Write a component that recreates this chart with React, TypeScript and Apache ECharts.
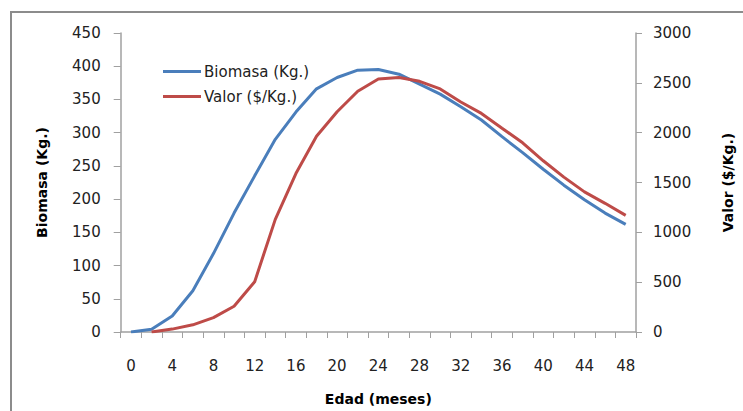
import React, { useEffect, useRef } from "react";
import * as echarts from "echarts";

// Age in months (category axis, one category every 2 months)
const months: string[] = [
  "0", "2", "4", "6", "8", "10", "12", "14", "16", "18", "20", "22", "24",
  "26", "28", "30", "32", "34", "36", "38", "40", "42", "44", "46", "48",
];

// Biomass (kg), left axis
const biomasa: number[] = [
  0, 4, 24, 62, 118, 179, 235, 290, 331, 366, 383, 394, 395,
  388, 373, 358, 339, 319, 294, 270, 245, 221, 199, 179, 162,
];

// Value ($/kg), right axis; no value at month 0
const valor: (number | null)[] = [
  null, 0, 29, 72, 144, 259, 505, 1130, 1590, 1964, 2210, 2415, 2538,
  2554, 2515, 2439, 2308, 2193, 2045, 1898, 1718, 1554, 1406, 1291, 1170,
];

const BLUE = "#4A7EBB";
const RED = "#BE4B48";
const TEXT = "#222222";
const AXIS = "#A0A0A0";
const FONT = "DejaVu Sans";

export default function App() {
  const ref = useRef<HTMLDivElement>(null);

  useEffect(() => {
    if (!ref.current) return;
    const chart = echarts.init(ref.current, undefined, { renderer: "svg" });
    const titleStyle = { fontFamily: FONT, fontSize: 14, fontWeight: "bold", color: "#000" };
    const tickLabel = { fontSize: 15, color: TEXT, fontFamily: FONT };
    chart.setOption({
      animation: false,
      backgroundColor: "#ffffff",
      textStyle: { fontFamily: FONT },
      graphic: [
        {
          type: "rect",
          shape: { x: 11, y: 12, width: 800, height: 500 },
          style: { fill: "none", stroke: "#8C8C8C", lineWidth: 2 },
          silent: true,
        },
      ],
      legend: {
        orient: "vertical",
        left: 158,
        top: 59,
        itemWidth: 38,
        itemHeight: 3,
        itemGap: 10,
        icon: "rect",
        textStyle: { fontFamily: FONT, fontSize: 15, color: TEXT, padding: [0, 0, 0, -2] },
        data: ["Biomasa (Kg.)", "Valor ($/Kg.)"],
      },
      grid: { left: 120.7, right: 96.3, top: 33, bottom: 73 },
      xAxis: {
        type: "category",
        data: months,
        boundaryGap: true,
        name: "Edad (meses)",
        nameLocation: "middle",
        nameGap: 60,
        nameTextStyle: titleStyle,
        axisLine: { lineStyle: { color: AXIS, width: 1.5 } },
        axisTick: { show: true, interval: 0, length: 6, lineStyle: { color: AXIS } },
        axisLabel: { interval: 1, margin: 26, ...tickLabel },
        splitLine: { show: false },
      },
      yAxis: [
        {
          type: "value",
          min: 0,
          max: 450,
          interval: 50,
          name: "Biomasa (Kg.)",
          nameLocation: "middle",
          nameRotate: 90,
          nameGap: 72,
          nameTextStyle: titleStyle,
          axisLine: { show: true, lineStyle: { color: AXIS, width: 1.5 } },
          axisTick: { show: true, length: 7, lineStyle: { color: AXIS } },
          axisLabel: { margin: 20, ...tickLabel },
          splitLine: { show: false },
        },
        {
          type: "value",
          min: 0,
          max: 3000,
          interval: 500,
          position: "right",
          name: "Valor ($/Kg.)",
          nameLocation: "middle",
          nameRotate: 90,
          nameGap: 85,
          nameTextStyle: titleStyle,
          axisLine: { show: true, lineStyle: { color: AXIS, width: 1.5 } },
          axisTick: { show: true, length: 6, lineStyle: { color: AXIS } },
          axisLabel: { margin: 17, formatter: (v: number) => String(v), ...tickLabel },
          splitLine: { show: false },
        },
      ],
      series: [
        {
          name: "Biomasa (Kg.)",
          type: "line",
          yAxisIndex: 0,
          data: biomasa,
          showSymbol: false,
          symbol: "none",
          lineStyle: { color: BLUE, width: 3 },
          itemStyle: { color: BLUE },
        },
        {
          name: "Valor ($/Kg.)",
          type: "line",
          yAxisIndex: 1,
          data: valor,
          showSymbol: false,
          symbol: "none",
          lineStyle: { color: RED, width: 3 },
          itemStyle: { color: RED },
        },
      ],
    });
    return () => chart.dispose();
  }, []);

  return (
    <div
      ref={ref}
      style={{ position: "fixed", left: 0, top: 0, width: 743, height: 411 }}
    />
  );
}
